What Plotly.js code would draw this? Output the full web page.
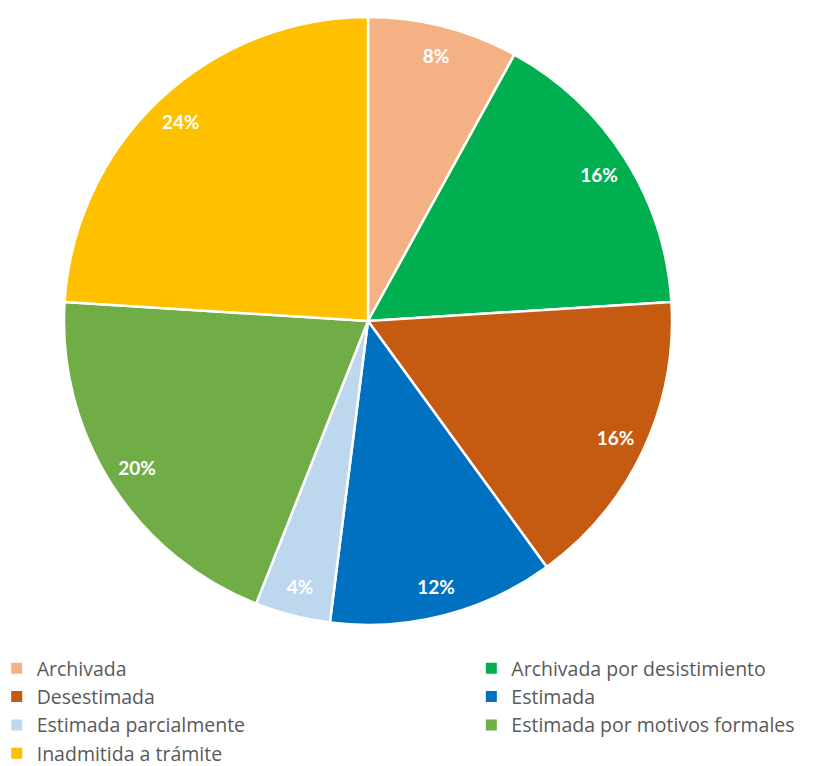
<!DOCTYPE html>
<html>
<head>
<meta charset="utf-8">
<script src="https://cdn.plot.ly/plotly-3.0.1.min.js"></script>
<style>html,body{margin:0;padding:0;background:#fff;}#chart{width:824px;height:766px;}</style>
</head>
<body>
<div id="chart"></div>
<script>
const categories = ["Archivada", "Archivada por desistimiento", "Desestimada", "Estimada", "Estimada parcialmente", "Estimada por motivos formales", "Inadmitida a trámite"];
const values = [8, 16, 16, 12, 4, 20, 24];
const colors = ["#F4B183", "#00B050", "#C55A11", "#0070C0", "#BDD7EE", "#70AD47", "#FFC000"];

const pieDomain = {x: [64/824, 672/824], y: [1 - 628/766, 1 - 14/766]};

const pie = {
  type: "pie",
  labels: categories,
  values: values,
  sort: false,
  direction: "clockwise",
  rotation: 0,
  marker: {colors: colors, line: {color: "#ffffff", width: 2.5}},
  textinfo: "none",
  hoverinfo: "none",
  showlegend: false,
  domain: pieDomain
};

// transparent ring carrying the percentage labels near the outer edge
const labelRing = {
  type: "pie",
  labels: categories,
  values: values,
  sort: false,
  direction: "clockwise",
  rotation: 0,
  hole: 0.8,
  marker: {colors: categories.map(() => "rgba(0,0,0,0)"), line: {width: 0}},
  texttemplate: "%{value}%",
  textposition: "inside",
  insidetextorientation: "horizontal",
  textfont: {family: "Lato, 'Open Sans', sans-serif", size: 19, color: "#ffffff", weight: "bold"},
  hoverinfo: "none",
  showlegend: false,
  domain: pieDomain
};

const legendTraces = categories.map((name, i) => ({
  type: "scatter",
  mode: "markers",
  x: [null], y: [null],
  name: name,
  marker: {symbol: "square", size: 11, color: colors[i]},
  legend: i % 2 === 0 ? "legend" : "legend2",
  hoverinfo: "none"
}));

const legendFont = {family: "'Open Sans', Lato, sans-serif", size: 19.5, color: "#595959"};

const layout = {
  width: 824, height: 766,
  margin: {l: 0, r: 0, t: 0, b: 0, autoexpand: false},
  paper_bgcolor: "#ffffff",
  plot_bgcolor: "rgba(0,0,0,0)",
  xaxis: {visible: false},
  yaxis: {visible: false},
  showlegend: true,
  legend: {
    orientation: "v",
    x: -0.004, xanchor: "left",
    y: 1 - 649/766, yanchor: "top",
    font: legendFont,
    traceorder: "normal",
    tracegroupgap: 0,
    itemclick: false
  },
  legend2: {
    orientation: "v",
    x: 0.572, xanchor: "left",
    y: 1 - 649/766, yanchor: "top",
    font: legendFont,
    traceorder: "normal",
    tracegroupgap: 0,
    itemclick: false
  }
};

Plotly.newPlot("chart", [pie, labelRing].concat(legendTraces), layout, {displayModeBar: false, staticPlot: true});
</script>
</body>
</html>
